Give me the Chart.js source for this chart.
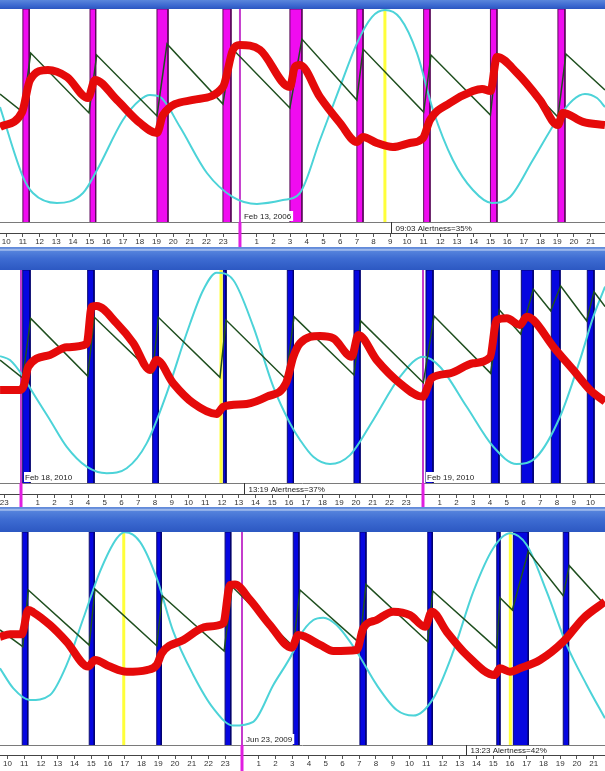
<!DOCTYPE html>
<html>
<head>
<meta charset="utf-8">
<script src="https://cdn.jsdelivr.net/npm/chart.js@4.4.1/dist/chart.umd.min.js"></script>
<style>
  html, body { margin: 0; padding: 0; background: #fff; }
  body { width: 605px; height: 771px; position: relative; overflow: hidden; }
  .band { position: absolute; left: 0; width: 605px; }
  .band.top { top: 0; height: 9px; background: linear-gradient(#5a86dc, #3c69d0 60%, #2b56c0); }
  .band.mid { background: linear-gradient(to bottom, #5f88d8 0px, #6f95de 2px, #c9d9f5 3px, #5583dc 4px, #3e6cd2 50%, #2c58c2 100%); }
  canvas { position: absolute; left: 0; }
</style>
</head>
<body>
<div class="band top"></div>
<canvas id="panel1" width="605" height="238" style="top:9px"></canvas>
<div class="band mid" style="top:247px;height:23px"></div>
<canvas id="panel2" width="605" height="237" style="top:270px"></canvas>
<div class="band mid" style="top:507px;height:25px"></div>
<canvas id="panel3" width="605" height="239" style="top:532px"></canvas>
<script>
// hours are relative to the midnight of the dated day, values are % of plot height

// ---- panel 1 (Feb 13, 2006)
var p1Range = [-14.37, 21.86];
var p1Sleep = [[-13.0,-12.62],[-8.98,-8.64],[-4.97,-4.31],[-1.02,-0.54],[2.99,3.71],[7.0,7.37],[11.0,11.38],[15.0,15.39],[19.04,19.46]];
var p1Yellow = [8.68];
var p1Midnight = [0];
var p1Dates = ['Feb 13, 2006'];
var p1Status = [9.05, '09:03 Alertness=35%'];
var p1Red = [[-14.37,44.6],[-13.05,51.6],[-12.57,66.7],[-11.5,71.4],[-10.36,68.1],[-9.1,58.2],[-8.68,66.7],[-7.37,57.3],[-5.99,46.5],[-4.97,41.8],[-4.61,50.2],[-2.81,57.3],[-1.02,63.4],[-0.42,80.8],[0,83.1],[1.2,80.8],[2.99,63.4],[3.29,72.8],[3.59,73.7],[4.79,58.7],[5.99,46.5],[7.0,37.6],[7.37,39.9],[8.2,37.1],[9.16,35.2],[10.18,37.1],[10.96,39.4],[11.38,47.9],[12.57,55.9],[13.95,61.5],[14.5,62.5],[15.0,61.5],[15.39,77.5],[16.59,70.0],[17.96,57.3],[19.04,45.5],[19.34,51.2],[20.54,47.0],[21.86,45.5]];
var p1Green = [[-14.37,60.1],[-13.01,51.6],[-12.53,79.3],[-9.04,51.2],[-8.58,78.4],[-4.97,49.8],[-4.37,83.6],[-1.02,55.4],[-0.5,81.7],[2.99,53.5],[3.71,85.9],[7.0,57.3],[7.37,81.2],[11.0,51.6],[11.44,78.4],[15.0,50.2],[15.39,79.3],[19.04,49.3],[19.52,78.9],[21.86,62.0]];
var p1Cyan = [[-14.37,54.0],[-12.99,21.1],[-12.4,13.6],[-10.96,8.9],[-9.4,13.6],[-8.56,24.4],[-7.01,47.9],[-5.99,57.3],[-5.39,59.6],[-4.79,58.7],[-3.59,44.6],[-1.98,23.0],[-0.42,11.7],[1.02,8.5],[2.57,10.3],[3.59,13.6],[4.79,38.5],[5.99,63.4],[7.01,84.0],[7.9,96.2],[8.68,99.5],[9.58,95.8],[10.6,79.3],[11.56,52.6],[12.75,29.1],[13.95,15.0],[15.09,8.9],[16.17,11.7],[17.54,29.1],[18.98,47.9],[19.94,57.3],[20.66,60.1],[21.38,58.2],[21.86,54.0]];

// ---- panel 2 (Feb 18-19, 2010)
var p2Range = [-1.254, 34.866];
var p2Sleep = [[0.1,0.54],[3.98,4.36],[7.86,8.2],[12.08,12.24],[15.9,16.26],[19.88,20.24],[24.18,24.6],[28.08,28.54],[29.87,30.58],[31.66,32.18],[33.81,34.21]];
var p2Yellow = [11.94];
var p2Midnight = [0, 24];
var p2Dates = ['Feb 18, 2010', 'Feb 19, 2010'];
var p2Status = [13.317, '13:19 Alertness=37%'];
var p2Red = [[-1.25,43.7],[-0.06,43.7],[0.18,46.0],[0.44,54.6],[1.73,60.1],[2.73,63.7],[3.92,65.3],[4.22,82.8],[4.52,83.1],[5.71,75.0],[6.71,65.6],[7.7,53.1],[8.1,57.7],[9.09,46.8],[10.29,37.4],[11.68,32.4],[12.08,35.8],[13.47,37.1],[14.67,40.5],[15.82,46.8],[16.26,59.3],[16.66,65.6],[17.85,69.0],[18.65,67.9],[19.74,59.3],[20.14,69.5],[21.24,57.7],[22.63,46.8],[23.98,40.5],[24.52,49.2],[25.61,51.5],[27.0,56.2],[28.0,59.0],[28.4,76.5],[29.0,77.3],[29.79,74.2],[30.19,78.1],[30.59,76.5],[31.78,64.0],[32.97,53.1],[33.97,43.7],[34.87,38.2]];
var p2Green = [[-1.25,57.7],[0.1,49.2],[0.58,77.3],[3.98,50.2],[4.38,77.8],[7.86,51.5],[8.2,77.8],[11.88,49.6],[12.24,76.5],[15.82,48.7],[16.3,78.1],[19.88,50.7],[20.28,76.1],[24.02,47.1],[24.66,78.4],[28.04,51.5],[28.56,81.2],[29.83,70.0],[30.59,90.9],[31.62,80.9],[32.22,92.5],[33.77,76.2],[34.21,89.8],[34.87,82.8]];
var p2Cyan = [[-1.25,59.6],[-0.66,57.7],[0.14,49.9],[0.73,42.1],[1.73,29.6],[2.73,17.0],[3.92,7.7],[5.12,4.6],[6.31,6.9],[7.5,18.6],[8.7,42.1],[9.89,70.3],[10.88,90.6],[11.68,98.7],[12.67,95.3],[13.87,73.4],[15.06,45.2],[16.06,28.0],[16.66,20.2],[17.45,12.3],[18.45,8.9],[19.64,13.1],[21.03,29.6],[22.63,49.9],[24.02,59.3],[25.01,54.6],[26.61,35.8],[28.2,17.0],[29.59,8.9],[30.79,12.3],[32.18,31.1],[33.37,57.7],[34.17,78.1],[34.87,92.2]];

// ---- panel 3 (Jun 23, 2009)
var p3Range = [-14.448, 21.672];
var p3Sleep = [[-13.12,-12.79],[-9.12,-8.82],[-5.09,-4.82],[-1.01,-0.67],[3.06,3.4],[7.04,7.4],[11.09,11.36],[15.21,15.4],[16.2,17.09],[19.18,19.5]];
var p3Yellow = [-7.06, 16.02];
var p3Midnight = [0];
var p3Dates = ['Jun 23, 2009'];
var p3Status = [13.383, '13:23 Alertness=42%'];
var p3Red = [[-14.45,50.8],[-13.85,52.0],[-13.15,52.0],[-12.76,63.4],[-12.46,62.3],[-11.46,56.3],[-10.47,48.5],[-9.18,36.8],[-8.78,39.9],[-7.88,36.8],[-6.88,34.4],[-5.69,35.2],[-5.09,37.6],[-4.79,43.1],[-3.5,49.3],[-2.11,55.5],[-1.12,57.1],[-0.72,75.1],[-0.42,75.4],[0.48,68.1],[1.67,56.3],[2.97,45.7],[3.36,51.6],[4.66,47.0],[5.45,44.1],[6.85,44.6],[7.24,54.8],[8.04,58.7],[9.03,62.6],[10.03,61.0],[10.93,55.5],[11.33,62.6],[12.22,53.2],[13.41,42.3],[15.1,32.9],[15.4,36.0],[16.0,34.4],[16.6,36.0],[17.79,39.9],[19.18,48.5],[20.38,59.5],[21.67,67.3]];
var p3Green = [[-14.45,54.0],[-13.09,46.2],[-12.76,72.8],[-9.12,46.9],[-8.78,73.2],[-5.09,46.6],[-4.76,70.1],[-1.07,44.1],[-0.58,74.3],[3.06,46.2],[3.46,72.8],[7.04,47.7],[7.4,75.4],[11.09,48.5],[11.39,72.3],[15.21,45.4],[15.4,69.2],[16.14,63.4],[17.09,90.8],[19.18,70.1],[19.54,84.2],[21.67,65.7]];
var p3Cyan = [[-14.45,36.0],[-13.65,26.6],[-12.66,21.1],[-11.46,23.5],[-10.47,37.6],[-9.47,59.5],[-8.48,81.4],[-7.48,97.0],[-6.99,99.9],[-6.09,95.4],[-5.09,78.3],[-4.1,53.2],[-2.91,32.9],[-1.71,17.2],[-0.52,9.1],[0.67,10.9],[1.87,28.2],[3.06,43.8],[3.46,51.2],[4.26,58.7],[4.85,59.8],[5.65,56.3],[6.85,43.8],[8.04,28.2],[9.24,16.4],[10.23,13.8],[11.42,21.9],[12.61,43.8],[13.81,72.0],[15.0,92.4],[16.0,99.4],[17.0,93.9],[18.19,72.0],[19.39,46.9],[20.58,28.2],[21.67,12.5]];

Chart.defaults.font.family = "'Liberation Sans', Arial, sans-serif";
Chart.defaults.font.size = 8;
Chart.defaults.color = '#222';

function pts(a) {
    return a.map(p => ({ x: p[0], y: p[1] }));
}

// status strip, date tags and the midnight marks through the axis
function stripPlugin(p) {
    return {
        id: 'strip',
        afterDraw: function (chart) {
            var ctx = chart.ctx, a = chart.chartArea, xs = chart.scales.x;
            var H = chart.height, W = chart.width;
            ctx.save();
            ctx.strokeStyle = '#7a7a7a';
            ctx.lineWidth = 1;
            ctx.beginPath();
            ctx.moveTo(0, a.bottom + 0.5);
            ctx.lineTo(W, a.bottom + 0.5);
            ctx.stroke();

            p.midnight.forEach(function (m) {
                var px = xs.getPixelForValue(m);
                ctx.strokeStyle = '#e01ee0';
                ctx.lineWidth = 3;
                ctx.beginPath();
                ctx.moveTo(px, a.bottom);
                ctx.lineTo(px, H);
                ctx.stroke();
            });

            ctx.font = "8px 'Liberation Sans', Arial, sans-serif";
            ctx.textBaseline = 'middle';

            // cursor readout
            var sx = Math.round(xs.getPixelForValue(p.status[0])) + 0.5;
            ctx.strokeStyle = '#333';
            ctx.lineWidth = 1;
            ctx.beginPath();
            ctx.moveTo(sx, a.bottom);
            ctx.lineTo(sx, a.bottom + p.statusH);
            ctx.stroke();
            ctx.fillStyle = '#222';
            ctx.fillText(p.status[1], sx + 4, a.bottom + p.statusH / 2 + 1);

            p.dates.forEach(function (d, i) {
                var dx = xs.getPixelForValue(p.midnight[i]) + 4;
                var w = ctx.measureText(d).width;
                ctx.fillStyle = '#fff';
                ctx.fillRect(dx - 1, a.bottom - 11, w + 3, 10);
                ctx.fillStyle = '#222';
                ctx.fillText(d, dx, a.bottom - 5.5);
            });
            ctx.restore();
        }
    };
}

function buildPanel(id, p) {
    var ds = [];
    ds.push({ data: pts(p.red), borderColor: '#e50a0a', borderWidth: 8, cubicInterpolationMode: 'monotone', order: 1 });
    ds.push({ data: pts(p.green), borderColor: '#1f4f1f', borderWidth: 1.5, order: 2 });
    ds.push({ data: pts(p.cyan), borderColor: '#4cd3d8', borderWidth: 2, cubicInterpolationMode: 'monotone', order: 3 });
    p.midnight.forEach(m => ds.push({ data: pts([[m, 0], [m, 100]]), borderColor: '#c43ccc', borderWidth: 2, order: 4 }));
    p.yellow.forEach(m => ds.push({ data: pts([[m, 0], [m, 100]]), borderColor: '#ffff3a', borderWidth: 3, order: 5 }));
    p.sleep.forEach(s => ds.push({
        data: pts([[s[0], 0], [s[0], 100], [s[1], 100], [s[1], 0]]),
        borderColor: p.edge, backgroundColor: p.fill, borderWidth: 1, fill: 'origin', order: 6
    }));
    ds.forEach(function (d) {
        d.pointRadius = 0;
        d.xAxisID = 'x';
        d.yAxisID = 'y';
        if (d.fill === undefined) d.fill = false;
    });

    new Chart(document.getElementById(id), {
        type: 'line',
        data: { datasets: ds },
        options: {
            responsive: false,
            animation: false,
            events: [],
            layout: { padding: 0 },
            plugins: { legend: { display: false }, tooltip: { enabled: false } },
            scales: {
                x: {
                    type: 'linear', position: 'bottom', weight: 1,
                    min: p.range[0], max: p.range[1],
                    afterFit: function (s) { s.height = p.axisH; s.paddingLeft = 0; s.paddingRight = 0; },
                    grid: { display: true, drawOnChartArea: false, drawTicks: true, tickLength: 4, color: '#555' },
                    border: { display: true, color: '#444', width: 1 },
                    ticks: {
                        stepSize: 1, autoSkip: false, maxRotation: 0, includeBounds: false, padding: 0, color: '#333',
                        callback: function (v) {
                            var h = ((Math.round(v) % 24) + 24) % 24;
                            return h === 0 ? '' : String(h);
                        }
                    }
                },
                status: {
                    type: 'linear', position: 'bottom', weight: 0, min: 0, max: 1,
                    afterFit: function (s) { s.height = p.statusH; s.paddingLeft = 0; s.paddingRight = 0; },
                    grid: { display: false }, ticks: { display: false }, border: { display: false }
                },
                y: { type: 'linear', min: 0, max: 100, display: false }
            }
        },
        plugins: [stripPlugin(p)]
    });
}

document.addEventListener('DOMContentLoaded', function () {
    buildPanel('panel1', {
        range: p1Range, sleep: p1Sleep, yellow: p1Yellow, midnight: p1Midnight, dates: p1Dates, status: p1Status,
        red: p1Red, green: p1Green, cyan: p1Cyan, fill: '#f00cf0', edge: '#5a0a5a', statusH: 11, axisH: 14
    });
    buildPanel('panel2', {
        range: p2Range, sleep: p2Sleep, yellow: p2Yellow, midnight: p2Midnight, dates: p2Dates, status: p2Status,
        red: p2Red, green: p2Green, cyan: p2Cyan, fill: '#0606e0', edge: '#00006e', statusH: 11, axisH: 13
    });
    buildPanel('panel3', {
        range: p3Range, sleep: p3Sleep, yellow: p3Yellow, midnight: p3Midnight, dates: p3Dates, status: p3Status,
        red: p3Red, green: p3Green, cyan: p3Cyan, fill: '#0606e0', edge: '#00006e', statusH: 10, axisH: 16
    });
});
</script>
</body>
</html>
